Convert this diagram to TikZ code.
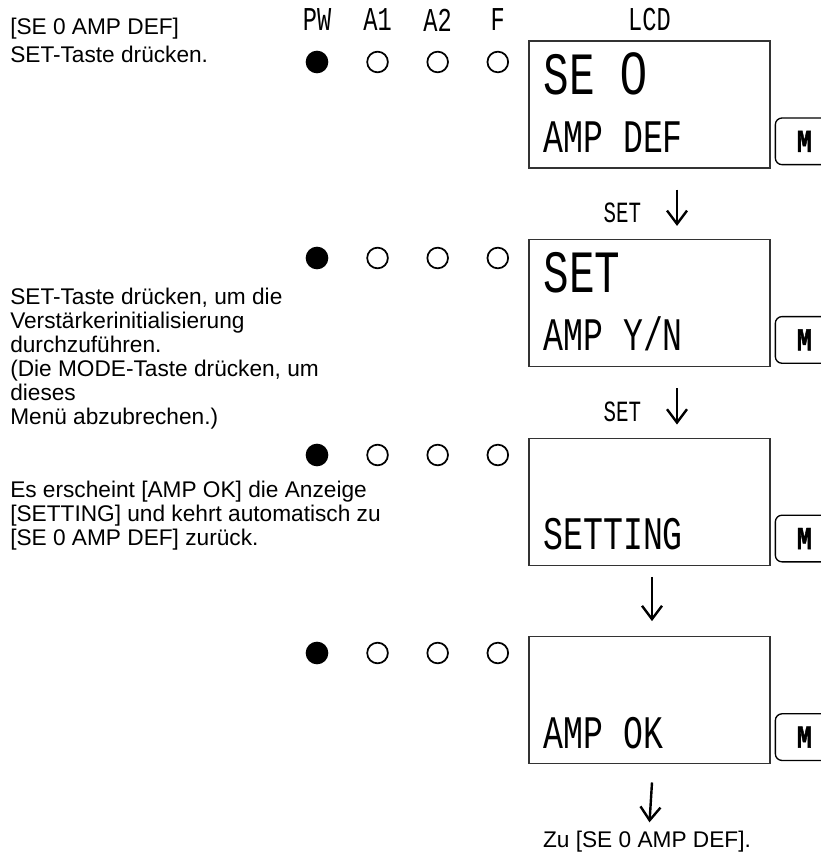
\documentclass[tikz,border=0pt]{standalone}
\usepackage{fontspec}
\setmainfont{Liberation Sans}
\newfontfamily\lcdfont[FakeStretch=0.71]{Liberation Mono}
\newfontfamily\lcdzero[FakeStretch=0.8]{Liberation Sans}
\newfontfamily\keyfont[FakeStretch=0.78,FakeBold=1.5]{Liberation Mono}
\usetikzlibrary{arrows.meta,positioning}
\tikzset{
  lcdbox/.style={draw=black!80,line width=1pt,minimum width=180.75pt,minimum height=95.25pt,inner sep=0pt},
  bigtxt/.style={font=\lcdfont\fontsize{45}{45}\selectfont,inner sep=0pt,anchor=base west},
  smalltxt/.style={font=\lcdfont\fontsize{35}{35}\selectfont,inner sep=0pt,anchor=base west},
  hdr/.style={font=\lcdfont\fontsize{25}{25}\selectfont,inner sep=0pt},
  setlbl/.style={font=\lcdfont\fontsize{22}{22}\selectfont,inner sep=0pt},
  ledon/.style={circle,fill=black,minimum size=17pt,inner sep=0pt},
  ledoff/.style={circle,draw=black,line width=1.3pt,minimum size=15.5pt,inner sep=0pt},
  mbtn/.style={draw=black,line width=1pt,rounded corners=5pt,minimum width=43.5pt,minimum height=35pt,anchor=north west,inner sep=0pt,font=\keyfont\bfseries\fontsize{24}{24}\selectfont},
  note/.style={font=\fontsize{17}{18}\selectfont,align=left,inner sep=0pt,anchor=base west},
  arr/.style={-{Straight Barb[length=10pt,width=15pt]},line width=1.8pt},
}

\begin{document}
\begin{tikzpicture}[x=0.75pt,y=-0.75pt,node distance=28.3pt]
  \useasboundingbox (0,0) rectangle (820,855);

  % LCD screens
  \node[lcdbox] (lcd1) at (649.5,104.5) {};
  \node[lcdbox,below=52.7pt of lcd1] (lcd2) {};
  \node[lcdbox,below=52.7pt of lcd2] (lcd3) {};
  \node[lcdbox,below=52.7pt of lcd3] (lcd4) {};

  \node[bigtxt] (se) at ([shift={(15,54)}]lcd1.north west) {SE {\lcdzero 0}};
  \node[smalltxt] (ampdef) at ([shift={(15,112)}]lcd1.north west) {AMP DEF};
  \node[bigtxt] (set) at ([shift={(15,54)}]lcd2.north west) {SET};
  \node[smalltxt] (ampyn) at ([shift={(15,112)}]lcd2.north west) {AMP Y/N};
  \node[smalltxt] (setting) at ([shift={(15,112)}]lcd3.north west) {SETTING};
  \node[smalltxt] (ampok) at ([shift={(15,112)}]lcd4.north west) {AMP OK};

  % M keys
  \node[mbtn] (m1) at ([shift={(4,77)}]lcd1.north east) {M};
  \node[mbtn] (m2) at ([shift={(4,77)}]lcd2.north east) {M};
  \node[mbtn] (m3) at ([shift={(4,77)}]lcd3.north east) {M};
  \node[mbtn] (m4) at ([shift={(4,77)}]lcd4.north east) {M};

  % LEDs
  \node[ledon] (pw1) at (317,62) {};
  \node[ledoff,right=of pw1] (aa1) {};
  \node[ledoff,right=of aa1] (ab1) {};
  \node[ledoff,right=of ab1] (f1) {};
  \node[ledon] (pw2) at (317,258) {};
  \node[ledoff,right=of pw2] (aa2) {};
  \node[ledoff,right=of aa2] (ab2) {};
  \node[ledoff,right=of ab2] (f2) {};
  \node[ledon] (pw3) at (317,455) {};
  \node[ledoff,right=of pw3] (aa3) {};
  \node[ledoff,right=of aa3] (ab3) {};
  \node[ledoff,right=of ab3] (f3) {};
  \node[ledon] (pw4) at (317,653) {};
  \node[ledoff,right=of pw4] (aa4) {};
  \node[ledoff,right=of aa4] (ab4) {};
  \node[ledoff,right=of ab4] (f4) {};

  % headings
  \node[hdr] (hpw) at ([shift={(0,-42)}]pw1) {PW};
  \node[hdr] (haa) at ([shift={(0,-42)}]aa1) {A1};
  \node[hdr] (hab) at ([shift={(0,-42)}]ab1) {A2};
  \node[hdr] (hf) at ([shift={(0,-42)}]f1) {F};
  \node[hdr,above=7pt of lcd1] (hlcd) {LCD};

  % notes (anchored at the last line)
  \node[note,font=\fontsize{17}{21}\selectfont] (n1) at (10,63) {{[}SE 0 AMP DEF]\\SET-Taste drücken.};
  \node[note] (n2) at (10,424) {SET-Taste drücken, um die\\Verstärkerinitialisierung\\durchzuführen.\\(Die MODE-Taste drücken, um\\dieses\\Menü abzubrechen.)};
  \node[note] (n3) at (10,545) {Es erscheint [AMP OK] die Anzeige\\{[}SETTING] und kehrt automatisch zu\\{[}SE 0 AMP DEF] zurück.};
  \node[note,anchor=base] (ret) at (647,847) {Zu [SE 0 AMP DEF].};

  % flow
  \draw[arr] ([shift={(27.5,21)}]lcd1.south) -- ([shift={(27.5,-13)}]lcd2.north) node[setlbl,pos=0.65,left=26pt] {SET};
  \draw[arr] ([shift={(27.5,21)}]lcd2.south) -- ([shift={(27.5,-13)}]lcd3.north) node[setlbl,pos=0.65,left=26pt] {SET};
  \draw[arr] ([shift={(2.5,11)}]lcd3.south) -- ([shift={(2.5,-15)}]lcd4.north);
  \draw[arr] ([shift={(2.5,18)}]lcd4.south) -- ([shift={(2.5,-8)}]ret.north);
\end{tikzpicture}
\end{document}
